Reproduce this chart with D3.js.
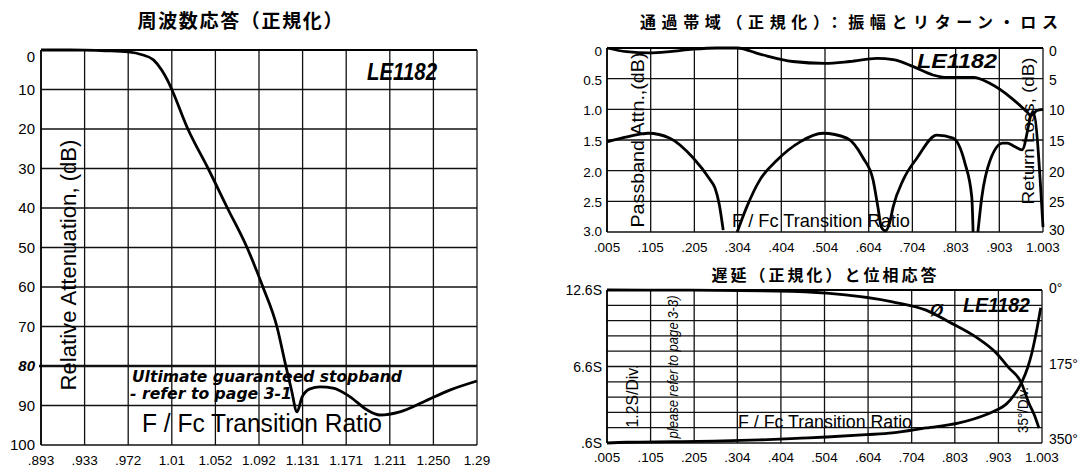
<!DOCTYPE html>
<html>
<head>
<meta charset="utf-8">
<script src="https://cdn.jsdelivr.net/npm/d3@7"></script>
<style>
  body { margin: 0; background: #fff; }
  svg text { font-family: "Liberation Sans", Arial, sans-serif; fill: #000; }
  svg .cjk { font-family: "Noto Sans CJK JP", sans-serif; font-weight: bold; }
</style>
</head>
<body>
<div id="chart"></div>
<script>
// ---- left: frequency response ----
const respTicks = [0.893, 0.933, 0.972, 1.01, 1.052, 1.092, 1.131, 1.171, 1.211, 1.250, 1.29];
const respTickLabels = [".893", ".933", ".972", "1.01", "1.052", "1.092", "1.131", "1.171", "1.211", "1.250", "1.29"];
const attenTicks = [0, 10, 20, 30, 40, 50, 60, 70, 80, 90, 100];
const respFreq = [0.893, 0.913, 0.933, 0.952, 0.972, 0.984, 0.994, 1.001, 1.006, 1.01, 1.0255, 1.045, 1.063,
  1.081, 1.0955, 1.108, 1.116, 1.121, 1.126, 1.1306, 1.1378, 1.147, 1.159, 1.1746, 1.19, 1.202, 1.22, 1.241, 1.265, 1.29];
const respAtten = [0, 0, 0.05, 0.2, 0.5, 1.2, 2.5, 5, 7.5, 10, 20, 30, 40,
  50, 60, 70, 80, 86, 91.6, 87.8, 85.8, 85.3, 85.6, 87.8, 91.1, 92.4, 91.6, 89.1, 86.1, 83.8];

// ---- right top: passband attenuation and return loss ----
const bandTicks = [0.005, 0.105, 0.205, 0.304, 0.404, 0.504, 0.604, 0.704, 0.803, 0.903, 1.003];
const bandTickLabels = [".005", ".105", ".205", ".304", ".404", ".504", ".604", ".704", ".803", ".903", "1.003"];
const passTicks = [0, 0.5, 1.0, 1.5, 2.0, 2.5, 3.0];
const passTickLabels = ["0", "0.5", "1.0", "1.5", "2.0", "2.5", "3.0"];
const rlTicks = [0, 5, 10, 15, 20, 25, 30];
const passFreq = [0.005, 0.05, 0.103, 0.149, 0.202, 0.257, 0.303, 0.355, 0.43, 0.504, 0.561, 0.623, 0.66,
  0.705, 0.751, 0.783, 0.843, 0.882, 0.928, 0.966, 0.975, 0.989, 1.003];
const passAtten = [0, 0.06, 0.08, 0.06, 0.02, 0, 0, 0.1, 0.22, 0.25, 0.22, 0.17, 0.19,
  0.3, 0.44, 0.48, 0.48, 0.58, 0.8, 1.04, 1.1, 1.02, 1.0];
// null = the curve drops out below 30 dB
const rlFreq = [0.005, 0.051, 0.099, 0.149, 0.202, 0.241, 0.252, 0.262, 0.271, 0.287,
  0.303, 0.325, 0.355, 0.394, 0.447, 0.499, 0.554, 0.591, 0.614, 0.625, 0.633, 0.642, 0.652, 0.66, 0.683, 0.715,
  0.76, 0.797, 0.824, 0.84, 0.843, 0.848,
  0.854, 0.863, 0.882, 0.911, 0.921, 0.939, 0.955, 0.98, 1.003];
const rlLoss = [15.3, 14.5, 13.9, 14.7, 17.9, 21.5, 22.8, 25.5, 29.7, null,
  30, 25.9, 21.5, 18.3, 15.3, 13.9, 14.7, 17.9, 21.5, 25.9, 29.2, 29.8, 28.5, 25.9, 21.5, 17.9,
  14.2, 14.7, 18.7, 24.3, 30, null,
  30, 24.3, 18.3, 15.5, 15.5, 16.1, 16.6, 10.4, 29.2];

// ---- right bottom: group delay and phase ----
const delayGrid = [0.6, 1.8, 3.0, 4.2, 5.4, 6.6, 7.8, 9.0, 10.2, 11.4, 12.6];
const delayTicks = [12.6, 6.6, 0.6];
const delayTickLabels = ["12.6S", "6.6S", ".6S"];
const phaseTicks = [0, 175, 350];
const phaseTickLabels = ["0°", "175°", "350°"];
const delayFreq = [0.005, 0.05, 0.16, 0.25, 0.355, 0.45, 0.509, 0.6, 0.66, 0.737, 0.813, 0.877, 0.9, 0.921,
  0.94, 0.957, 0.97, 0.98, 0.99, 1.0];
const delayVal = [0.6, 0.66, 0.7, 0.74, 0.84, 0.98, 1.07, 1.25, 1.39, 1.78, 2.17, 2.85, 3.2, 3.65,
  4.4, 5.4, 6.5, 7.7, 9.3, 11.2];
const phaseFreq = [0.005, 0.2, 0.394, 0.509, 0.66, 0.737, 0.79, 0.852, 0.898, 0.927, 0.955, 0.973, 0.985, 0.996];
const phaseDeg = [0, 0.5, 2.3, 7, 27, 46, 73, 108, 144, 178, 211, 259, 285, 316];

const svg = d3.select("#chart").append("svg")
  .attr("width", 1085)
  .attr("height", 468);

const gridColor = "#111";

// small helpers
function hLines(g, y, vals, x0, x1, w) {
  g.selectAll(null).data(vals).join("line")
    .attr("x1", x0).attr("x2", x1)
    .attr("y1", d => y(d)).attr("y2", d => y(d))
    .attr("stroke", gridColor).attr("stroke-width", w || 1.3);
}
function vLines(g, x, vals, y0, y1, w) {
  g.selectAll(null).data(vals).join("line")
    .attr("x1", d => x(d)).attr("x2", d => x(d))
    .attr("y1", y0).attr("y2", y1)
    .attr("stroke", gridColor).attr("stroke-width", w || 1.3);
}
function label(g, txt, x, y, size, opts) {
  opts = opts || {};
  let t = g.append("text")
    .attr("x", x).attr("y", y)
    .attr("font-size", size)
    .text(txt);
  if (opts.anchor) t.attr("text-anchor", opts.anchor);
  if (opts.weight) t.attr("font-weight", opts.weight);
  if (opts.style) t.attr("font-style", opts.style);
  if (opts.family) t.style("font-family", opts.family);
  if (opts.cls) t.attr("class", opts.cls);
  if (opts.len) t.attr("textLength", opts.len).attr("lengthAdjust", opts.adjust || "spacingAndGlyphs");
  if (opts.rotate) t.attr("transform", `rotate(-90, ${x}, ${y})`);
  return t;
}
function curve(g, x, y, xs, ys) {
  const pts = xs.map((d, i) => [d, ys[i]]);
  g.append("path")
    .datum(pts)
    .attr("fill", "none")
    .attr("stroke", "#000")
    .attr("stroke-width", 2.8)
    .attr("stroke-linejoin", "round")
    .attr("d", d3.line()
      .defined(d => d[1] != null)
      .x(d => x(d[0]))
      .y(d => y(d[1]))
      .curve(d3.curveMonotoneX));
}

// =========== LEFT CHART ===========
{
  const x0 = 41, x1 = 477, y0 = 50, y1 = 445;
  const step = (x1 - x0) / (respTicks.length - 1);
  const x = d3.scaleLinear().domain(respTicks).range(respTicks.map((d, i) => x0 + i * step));
  const y = d3.scaleLinear().domain([0, 100]).range([y0, y1]);
  const g = svg.append("g");

  label(g, "周波数応答（正規化）", 240, 28, 19, { anchor: "middle", cls: "cjk", len: 205, adjust: "spacing" });

  vLines(g, x, respTicks, y0, y1);
  hLines(g, y, attenTicks.filter(d => d !== 80), x0, x1);
  hLines(g, y, [80], x0 - 2, x1, 2.6);
  g.append("line").attr("x1", x0).attr("x2", x1).attr("y1", y0).attr("y2", y0)
    .attr("stroke", "#000").attr("stroke-width", 2);
  g.append("line").attr("x1", x0).attr("x2", x0).attr("y1", y0).attr("y2", y1)
    .attr("stroke", "#000").attr("stroke-width", 1.6);

  g.selectAll(null).data(attenTicks).join("text")
    .attr("x", 35)
    .attr("y", d => y(d) + (d === 0 ? 7 : 0))
    .attr("dy", "0.36em")
    .attr("text-anchor", "end")
    .attr("font-size", 15)
    .attr("font-weight", d => d === 80 ? "bold" : null)
    .attr("font-style", d => d === 80 ? "italic" : null)
    .text(d => d);

  g.selectAll(null).data(respTicks).join("text")
    .attr("x", d => x(d))
    .attr("y", 460)
    .attr("dy", "0.36em")
    .attr("text-anchor", "middle")
    .attr("font-size", 13.5)
    .text((d, i) => respTickLabels[i]);

  label(g, "Relative Attenuation, (dB)", 76, 265, 22, { anchor: "middle", rotate: true, len: 251 });
  label(g, "F / Fc Transition Ratio", 142, 432, 25, { len: 240 });
  label(g, "Ultimate guaranteed stopband", 132, 382, 15,
    { weight: "bold", style: "italic", family: "'DejaVu Sans', sans-serif", len: 270 });
  label(g, "- refer to page 3-1", 130, 399, 15,
    { weight: "bold", style: "italic", family: "'DejaVu Sans', sans-serif", len: 162 });
  label(g, "LE1182", 367, 80, 23, { weight: "bold", style: "italic", len: 70 });

  curve(g, x, y, respFreq, respAtten);
}

// =========== RIGHT TOP CHART ===========
{
  const x0 = 607, x1 = 1043, y0 = 48, y1 = 232;
  const x = d3.scaleLinear().domain([0.005, 1.003]).range([x0, x1]);
  const y = d3.scaleLinear().domain([0, 3]).range([y0, y1]);
  const yR = d3.scaleLinear().domain([0, 30]).range([y0, y1]);
  const g = svg.append("g");

  label(g, "通過帯域（正規化）：振幅とリターン・ロス", 849, 28, 16, { anchor: "middle", cls: "cjk", len: 418, adjust: "spacing" });

  vLines(g, x, bandTicks, y0, y1);
  hLines(g, y, passTicks, x0, x1);
  g.append("line").attr("x1", x0).attr("x2", x1).attr("y1", y0).attr("y2", y0)
    .attr("stroke", "#000").attr("stroke-width", 1.8);
  g.append("line").attr("x1", x0).attr("x2", x0).attr("y1", y0).attr("y2", y1)
    .attr("stroke", "#000").attr("stroke-width", 1.6);

  g.selectAll(null).data(passTicks).join("text")
    .attr("x", 602)
    .attr("y", d => y(d) + (d === 0 ? 3 : d === 3 ? -1 : 1))
    .attr("dy", "0.36em")
    .attr("text-anchor", "end")
    .attr("font-size", 13.5)
    .text((d, i) => passTickLabels[i]);

  g.selectAll(null).data(rlTicks).join("text")
    .attr("x", 1049)
    .attr("y", d => yR(d) + (d === 0 ? 3 : d === 30 ? -2 : 1))
    .attr("dy", "0.36em")
    .attr("font-size", 14)
    .text(d => d);

  g.selectAll(null).data(bandTicks).join("text")
    .attr("x", d => x(d))
    .attr("y", 247)
    .attr("dy", "0.36em")
    .attr("text-anchor", "middle")
    .attr("font-size", 13.5)
    .text((d, i) => bandTickLabels[i]);

  label(g, "Passband Attn.,(dB)", 644, 140, 19, { anchor: "middle", rotate: true, len: 175 });
  label(g, "Return Loss, (dB)", 1034, 131, 17, { anchor: "middle", rotate: true, len: 147 });
  label(g, "F / Fc Transition Ratio", 732, 227, 19, { len: 178 });
  label(g, "LE1182", 917, 68, 21, { weight: "bold", style: "italic", len: 80 });

  curve(g, x, y, passFreq, passAtten);
  curve(g, x, yR, rlFreq, rlLoss);
}

// =========== RIGHT BOTTOM CHART ===========
{
  const x0 = 607, x1 = 1042, y0 = 290, y1 = 443;
  const x = d3.scaleLinear().domain([0.005, 1.003]).range([x0, x1]);
  const y = d3.scaleLinear().domain([0.6, 12.6]).range([y1, y0]);
  const yP = d3.scaleLinear().domain([0, 350]).range([y0, y1]);
  const g = svg.append("g");

  label(g, "遅延（正規化）と位相応答", 824, 281, 16, { anchor: "middle", cls: "cjk", len: 225, adjust: "spacing" });

  vLines(g, x, bandTicks, y0, y1);
  hLines(g, y, delayGrid, x0, x1);
  g.append("line").attr("x1", x0).attr("x2", x1).attr("y1", y0).attr("y2", y0)
    .attr("stroke", "#000").attr("stroke-width", 1.8);
  g.append("line").attr("x1", x0).attr("x2", x0).attr("y1", y0).attr("y2", y1)
    .attr("stroke", "#000").attr("stroke-width", 1.6);

  g.selectAll(null).data(delayTicks).join("text")
    .attr("x", 602)
    .attr("y", d => y(d))
    .attr("dy", "0.36em")
    .attr("text-anchor", "end")
    .attr("font-size", 14)
    .text((d, i) => delayTickLabels[i]);

  g.selectAll(null).data(phaseTicks).join("text")
    .attr("x", 1049)
    .attr("y", d => yP(d) + (d === 0 ? -2 : d === 350 ? -4 : -3))
    .attr("dy", "0.36em")
    .attr("font-size", 14)
    .text((d, i) => phaseTickLabels[i]);

  g.selectAll(null).data(bandTicks).join("text")
    .attr("x", d => x(d))
    .attr("y", 457)
    .attr("dy", "0.36em")
    .attr("text-anchor", "middle")
    .attr("font-size", 13.5)
    .text((d, i) => bandTickLabels[i]);

  label(g, "1.2S/Div.", 638, 396, 16, { anchor: "middle", rotate: true, len: 63 });
  label(g, "please refer to page 3-3)", 678, 367, 14, { anchor: "middle", rotate: true, style: "italic", len: 143 });
  label(g, "35°/Div.", 1028, 410, 14, { anchor: "middle", rotate: true, len: 46 });
  label(g, "F / Fc Transition Ratio", 738, 428, 18, { len: 174 });
  label(g, "LE1182", 963, 312, 20, { weight: "bold", style: "italic", len: 67 });
  label(g, "Ø", 930, 316, 17, { weight: "bold", style: "italic" });

  curve(g, x, yP, phaseFreq, phaseDeg);
  curve(g, x, y, delayFreq, delayVal);
}
</script>
</body>
</html>
